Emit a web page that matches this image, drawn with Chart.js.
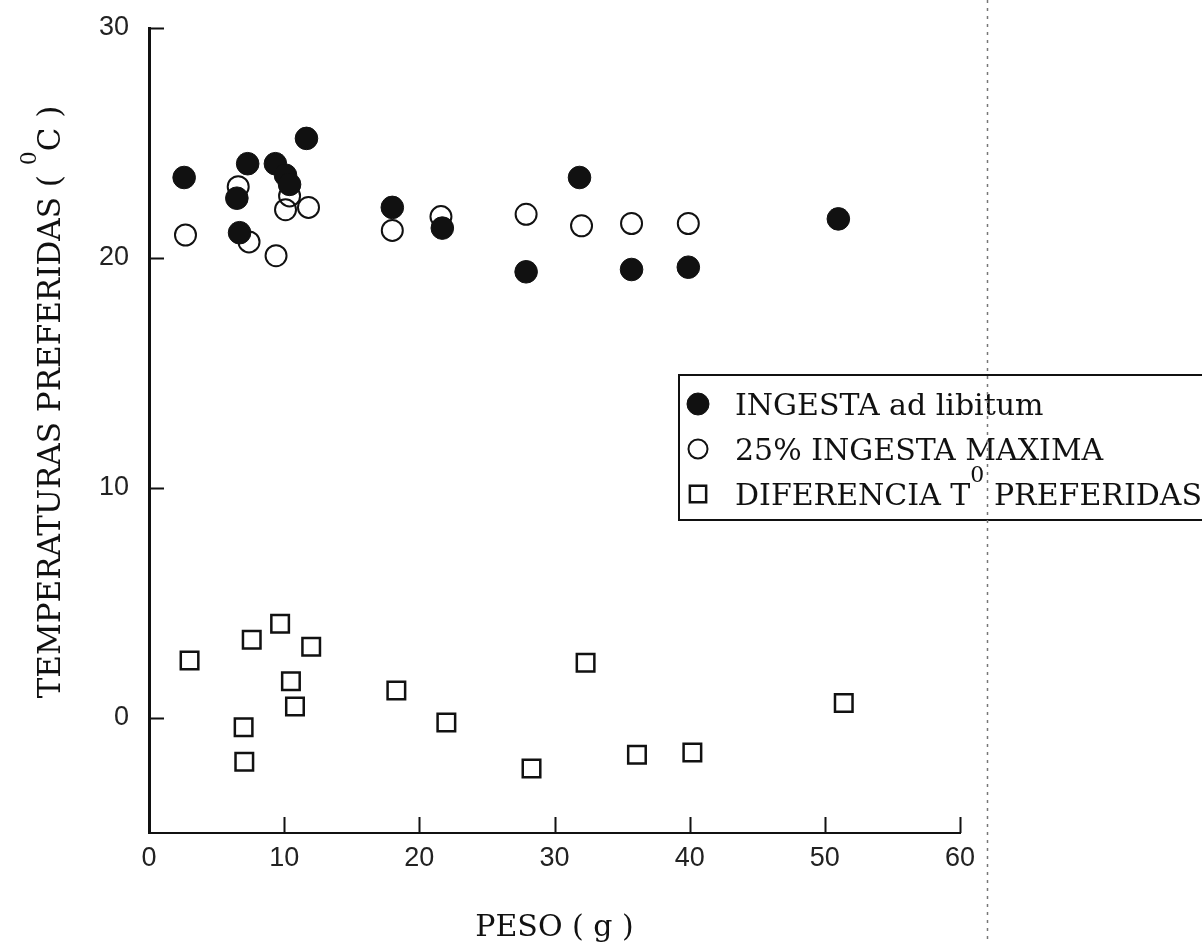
<!DOCTYPE html>
<html>
<head>
<meta charset="utf-8">
<title>Temperaturas preferidas</title>
<script src="https://cdn.jsdelivr.net/npm/chart.js@4/dist/chart.umd.min.js"></script>
<style>
  html, body { margin: 0; padding: 0; background: #ffffff; }
  canvas { display: block; }
</style>
</head>
<body>
<canvas id="chart" width="1202" height="942"></canvas>
<script>
// Peso (g) y temperatura preferida (ºC) con ingesta ad libitum
const pesoAdLibitum = [2.6, 6.5, 6.7, 7.3, 9.35, 10.1, 10.4, 11.65, 18.0, 21.7, 27.9, 31.85, 35.7, 39.9, 51.0];
const tempAdLibitum = [23.5, 22.6, 21.1, 24.1, 24.1, 23.6, 23.2, 25.2, 22.2, 21.3, 19.4, 23.5, 19.5, 19.6, 21.7];

// Con 25% de la ingesta maxima
const pesoMaxima = [2.7, 6.6, 7.4, 9.4, 10.1, 10.4, 11.8, 18.0, 21.6, 27.9, 32.0, 35.7, 39.9];
const tempMaxima = [21.0, 23.1, 20.7, 20.1, 22.1, 22.7, 22.2, 21.2, 21.8, 21.9, 21.4, 21.5, 21.5];

// Diferencia entre temperaturas preferidas
const pesoDiferencia = [3.0, 7.6, 9.7, 12.0, 10.5, 10.8, 7.0, 7.05, 18.3, 22.0, 32.3, 28.3, 36.1, 40.2, 51.4];
const tempDiferencia = [2.5, 3.4, 4.1, 3.1, 1.6, 0.5, -0.4, -1.9, 1.2, -0.2, 2.4, -2.2, -1.6, -1.5, 0.65];

const seriesLabels = ['INGESTA ad libitum', '25% INGESTA MAXIMA', 'DIFERENCIA T\u2070 PREFERIDAS'];
const xTicks = [0, 10, 20, 30, 40, 50, 60];
const yTicks = [0, 10, 20, 30];
const xTitle = 'PESO ( g )';
const yTitle = 'TEMPERATURAS PREFERIDAS ( \u2070C )';

const INK = '#111111';
const SERIF = '"DejaVu Serif", "Liberation Serif", serif';
const SANS = '"Liberation Sans", Arial, sans-serif';

const toPoints = (xs, ys) => xs.map((v, i) => ({ x: v, y: ys[i] }));

// Text with a raised "0" for the degree-style superscript
function richParts(text) {
  const parts = [];
  text.split('\u2070').forEach((seg, i) => {
    if (i > 0) parts.push({ t: '0', sup: true });
    if (seg) parts.push({ t: seg, sup: false });
  });
  return parts;
}
function drawRich(ctx, text, x, baseline, size, align) {
  const base = size + 'px ' + SERIF;
  const supSize = Math.round(size * 0.72);
  const sup = supSize + 'px ' + SERIF;
  const parts = richParts(text);
  let total = 0;
  parts.forEach(p => { ctx.font = p.sup ? sup : base; p.w = ctx.measureText(p.t).width; total += p.w; });
  let cx = align === 'center' ? x - total / 2 : x;
  ctx.textAlign = 'left';
  ctx.textBaseline = 'alphabetic';
  parts.forEach(p => {
    ctx.font = p.sup ? sup : base;
    ctx.fillText(p.t, cx, p.sup ? baseline - size * 0.76 : baseline);
    cx += p.w;
  });
}

const decor = {
  id: 'decor',
  afterDraw(chart) {
    const { ctx, chartArea, scales } = chart;
    const sx = scales.x, sy = scales.y;
    ctx.save();
    ctx.strokeStyle = INK;
    ctx.fillStyle = INK;

    // inward tick marks
    ctx.lineWidth = 2;
    ctx.beginPath();
    yTicks.forEach(v => {
      const py = Math.round(sy.getPixelForValue(v)) + 0.5;
      ctx.moveTo(chartArea.left, py);
      ctx.lineTo(chartArea.left + 15, py);
    });
    xTicks.filter(v => v > 0).forEach(v => {
      const px = Math.round(sx.getPixelForValue(v)) + 0.5;
      ctx.moveTo(px, chartArea.bottom);
      ctx.lineTo(px, chartArea.bottom - 16);
    });
    ctx.stroke();

    // axis titles
    drawRich(ctx, xTitle, (chartArea.left + chartArea.right) / 2, 936, 30, 'center');
    ctx.save();
    ctx.translate(60, 402);
    ctx.rotate(-Math.PI / 2);
    drawRich(ctx, yTitle, 0, 0, 31, 'center');
    ctx.restore();

    // legend box
    const box = { left: 679, top: 375, width: 600, height: 145 };
    ctx.lineWidth = 2;
    ctx.strokeRect(box.left, box.top, box.width, box.height);
    const rowY = [404, 449, 494];
    chart.data.datasets.forEach((ds, i) => {
      const y = rowY[i];
      ctx.save();
      ctx.fillStyle = ds.pointBackgroundColor;
      ctx.strokeStyle = ds.pointBorderColor;
      ctx.lineWidth = ds.pointBorderWidth;
      const r = ds.pointStyle === 'rect' ? 11.5 : (i === 0 ? 11 : 9.5);
      Chart.helpers.drawPoint(ctx, { pointStyle: ds.pointStyle, radius: r, borderWidth: ds.pointBorderWidth, rotation: 0 }, 698, y);
      ctx.restore();
      ctx.fillStyle = INK;
      drawRich(ctx, ds.label, 735, y + 11, 30, 'left');
    });

    // dotted guide rule on the right
    ctx.strokeStyle = '#777777';
    ctx.lineWidth = 1.5;
    ctx.setLineDash([3, 5]);
    ctx.beginPath();
    ctx.moveTo(987.5, 0);
    ctx.lineTo(987.5, 942);
    ctx.stroke();
    ctx.restore();
  }
};

new Chart(document.getElementById('chart'), {
  type: 'scatter',
  data: {
    datasets: [
      {
        label: seriesLabels[0],
        data: toPoints(pesoAdLibitum, tempAdLibitum),
        pointStyle: 'circle',
        pointRadius: 11.3,
        pointBackgroundColor: INK,
        pointBorderColor: INK,
        pointBorderWidth: 1
      },
      {
        label: seriesLabels[1],
        data: toPoints(pesoMaxima, tempMaxima),
        pointStyle: 'circle',
        pointRadius: 10.5,
        pointBackgroundColor: 'rgba(0,0,0,0)',
        pointBorderColor: INK,
        pointBorderWidth: 2
      },
      {
        label: seriesLabels[2],
        data: toPoints(pesoDiferencia, tempDiferencia),
        pointStyle: 'rect',
        pointRadius: 12.4,
        pointBackgroundColor: 'rgba(0,0,0,0)',
        pointBorderColor: INK,
        pointBorderWidth: 2.5
      }
    ]
  },
  options: {
    responsive: false,
    animation: false,
    events: [],
    layout: { padding: { left: 0, top: 28, right: 242, bottom: 0 } },
    plugins: {
      legend: { display: false },
      tooltip: { enabled: false }
    },
    scales: {
      x: {
        type: 'linear',
        position: 'bottom',
        min: 0,
        max: 60,
        afterBuildTicks: s => { s.ticks = xTicks.map(v => ({ value: v })); },
        afterFit: s => { s.height = 942 - 833; s.paddingLeft = 0; s.paddingRight = 0; },
        grid: { display: false, drawTicks: false },
        border: { display: true, color: INK, width: 2 },
        ticks: { color: '#222222', padding: 9, font: { family: SANS, size: 27 } }
      },
      y: {
        type: 'linear',
        position: 'left',
        min: -5,
        max: 30,
        afterBuildTicks: s => { s.ticks = yTicks.map(v => ({ value: v })); },
        afterFit: s => { s.width = 149; s.paddingTop = 0; s.paddingBottom = 0; },
        grid: { display: false, drawTicks: false },
        border: { display: true, color: INK, width: 3 },
        ticks: { color: '#222222', padding: 20, font: { family: SANS, size: 27 } }
      }
    }
  },
  plugins: [decor]
});
</script>
</body>
</html>
